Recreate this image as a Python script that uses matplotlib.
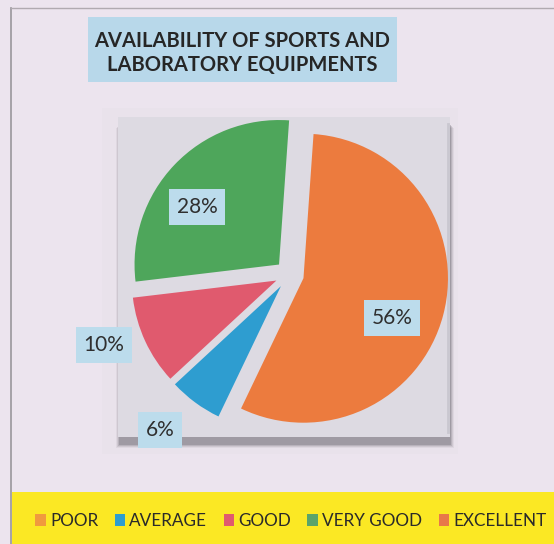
import matplotlib
matplotlib.use("Agg")
import matplotlib.pyplot as plt
from matplotlib.patches import Rectangle, Patch

# ---- data ----
categories = ["POOR", "AVERAGE", "GOOD", "VERY GOOD", "EXCELLENT"]
values = [56, 6, 10, 28, 0]
label_texts = ["56%", "6%", "10%", "28%"]
colors = ["#ec7b3e", "#2e9dd0", "#e05a6e", "#4ea65b", "#e8784a"]
legend_colors = ["#f09a3e", "#2e9dd0", "#e05a6e", "#5aa46a", "#e8784a"]
title = "AVAILABILITY OF SPORTS AND\nLABORATORY EQUIPMENTS"

# ---- layout (pixel units, y up) ----
W, H = 554, 544
fig = plt.figure(figsize=(W / 100, H / 100), dpi=100)
fig.patch.set_facecolor("#ece4ee")
ax = fig.add_axes([0, 0, 1, 1])
ax.set_xlim(0, W)
ax.set_ylim(0, H)
ax.set_aspect("equal")
ax.axis("off")

FONT = "Lato"

# outer border
ax.plot([11, 11], [0, H - 8], color="#9a979c", lw=1.2, zorder=1)
ax.plot([11, W], [H - 8, H - 8], color="#b0aab0", lw=1.0, zorder=1)

# plot area with soft halo and shadow
ax.add_patch(Rectangle((102, 90), 356, 346, facecolor="#e9e2eb", edgecolor="none", zorder=1))
for i, a in enumerate([0.08, 0.12, 0.18, 0.28]):
    d = 4 - i
    ax.add_patch(Rectangle((120 - d, 107 - 7 - d), 330 + 2 * d, 320, facecolor="#5e5b64",
                           alpha=a, edgecolor="none", zorder=2))
ax.add_patch(Rectangle((118, 107), 332, 320, facecolor="#dddae2", edgecolor="none", zorder=3))
ax.plot([448, 448], [112, 420], color="#c9c7d0", lw=2, zorder=3)

# pie
center = (289.5, 269.5)
radius = 144.5
explode_frac = [0.1, 0.1, 0.1, 0.1, 0.1]
wedges, _ = ax.pie(values, colors=colors, startangle=86, counterclock=False,
                   explode=[e * radius for e in explode_frac], center=center, radius=radius,
                   wedgeprops=dict(linewidth=0), frame=True)
for w in wedges:
    w.set_zorder(4)
ax.set_xlim(0, W)
ax.set_ylim(0, H)
ax.axis("off")

label_pos = [(392, 226), (160, 114), (104, 199), (197, 337)]
for t, (x, y) in zip(label_texts, label_pos):
    ax.text(x, y, t, fontsize=15, family=FONT, color="#2f2f2f", ha="center", va="center",
            zorder=6, bbox=dict(boxstyle="square,pad=0.38", facecolor="#bcdcec", edgecolor="none"))

# title
ax.add_patch(Rectangle((88, 462), 309, 65, facecolor="#b8d8ea", edgecolor="none", zorder=5))
ax.text(242, 491, title, fontsize=14.5, family=FONT, weight="bold", color="#262626",
        ha="center", va="center", linespacing=1.2, zorder=6)

# legend band
ax.add_patch(Rectangle((12, 0), W - 12, 52, facecolor="#fbe824", edgecolor="none", zorder=5))
handles = [Patch(facecolor=c, edgecolor="none") for c in legend_colors]
leg = fig.legend(handles, categories, loc="center", bbox_to_anchor=(291 / W, 23 / H),
                 ncol=5, frameon=False, handlelength=0.62, handleheight=0.62,
                 handletextpad=0.25, columnspacing=0.95,
                 prop=dict(family=FONT, size=12.3))
for t in leg.get_texts():
    t.set_color("#2a2a2a")
leg.set_zorder(7)

fig.savefig("out.png", dpi=100, facecolor=fig.get_facecolor())
